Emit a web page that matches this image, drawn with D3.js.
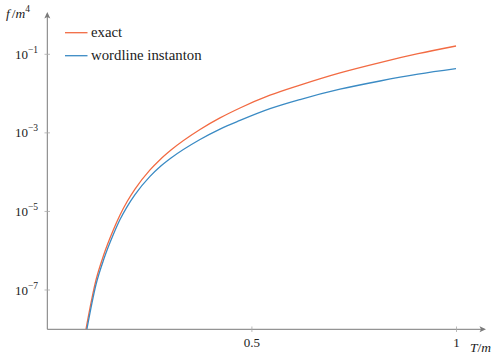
<!DOCTYPE html>
<html><head><meta charset="utf-8">
<script src="https://cdn.jsdelivr.net/npm/d3@7"></script>
<style>body{margin:0;background:#fff}svg{display:block}text{font-family:"Liberation Serif","DejaVu Serif",serif;fill:#222}</style>
</head><body><svg id="c" width="504" height="361"></svg>
<script>
const exactT = [0.0946,0.1190,0.1386,0.1613,0.1777,0.1948,0.2143,0.2510,0.2754,0.3023,0.3732,0.4220,0.4709,0.5442,0.6176,0.7153,0.8131,0.9059,0.9988];
const exactF = [1.016e-8,1.795e-7,8.24e-7,3.365e-6,8.11e-6,1.76e-5,3.70e-5,1.14e-4,2.08e-4,3.66e-4,1.22e-3,2.40e-3,4.30e-3,9.10e-3,1.65e-2,3.38e-2,6.18e-2,0.1035,0.1626];
const instT  = [0.0968,0.1190,0.1386,0.1613,0.1777,0.1948,0.2143,0.2510,0.2754,0.3023,0.3732,0.4220,0.4709,0.5442,0.6176,0.7153,0.8131,0.9059,0.9988];
const instF  = [1.016e-8,1.38e-7,6.32e-7,2.58e-6,6.22e-6,1.31e-5,2.68e-5,7.80e-5,1.37e-4,2.29e-4,6.78e-4,1.25e-3,2.07e-3,4.12e-3,7.06e-3,1.29e-2,2.09e-2,3.11e-2,4.30e-2];
const xTicks = [0.5,1];
const xTickLabels = ["0.5","1"];
const yTicks = [1e-7,1e-5,1e-3,1e-1];
const yTickExp = ["−7","−5","−3","−1"];
const seriesNames = ["exact","wordline instanton"];
const colors = ["#f26b43","#3b8bc4"];

const svg = d3.select("#c");
const x = d3.scaleLinear().domain([0,1]).range([47.3,456.5]);
const y = d3.scaleLog().domain([1e-8,1e-1]).range([329.3,54.3]);
const axisCol = "#7a7a7a";

svg.append("defs").append("clipPath").attr("id","clip")
  .append("rect").attr("x",47.3).attr("y",10).attr("width",440).attr("height",319.3);

// axes lines
svg.append("line").attr("x1",47.3).attr("x2",484).attr("y1",329.3).attr("y2",329.3).attr("stroke",axisCol).attr("stroke-width",1);
svg.append("line").attr("x1",47.3).attr("x2",47.3).attr("y1",329.3).attr("y2",14).attr("stroke",axisCol).attr("stroke-width",1);
svg.append("path").attr("d","M486,329.3 L479.5,326.3 L481,329.3 L479.5,332.3 Z").attr("fill",axisCol);
svg.append("path").attr("d","M47.3,12 L44.3,18.5 L47.3,17 L50.3,18.5 Z").attr("fill",axisCol);

// ticks
xTicks.forEach((t,i)=>{
  svg.append("line").attr("x1",x(t)).attr("x2",x(t)).attr("y1",326.5).attr("y2",332).attr("stroke","#aaa").attr("stroke-width",0.8);
  svg.append("text").attr("x",x(t)).attr("y",347).attr("text-anchor","middle").attr("font-size",13).text(xTickLabels[i]);
});
yTicks.forEach((t,i)=>{
  svg.append("line").attr("x1",44.5).attr("x2",50).attr("y1",y(t)).attr("y2",y(t)).attr("stroke","#aaa").attr("stroke-width",0.8);
  const tx = svg.append("text").attr("x",38).attr("y",y(t)+4.5).attr("text-anchor","end").attr("font-size",13);
  tx.append("tspan").text("10");
  tx.append("tspan").attr("dy",-6).attr("font-size",9.5).text(yTickExp[i]);
});

// axis labels
const yl = svg.append("text").attr("x",6).attr("y",18).attr("font-size",13.5).attr("font-style","italic");
yl.append("tspan").text("f");
yl.append("tspan").attr("dx",2).attr("font-style","normal").text("/");
yl.append("tspan").text("m");
yl.append("tspan").attr("dy",-6).attr("font-size",9.5).attr("font-style","normal").text("4");
const xl = svg.append("text").attr("x",470).attr("y",351.5).attr("font-size",13.5).attr("font-style","italic");
xl.append("tspan").text("T");
xl.append("tspan").attr("font-style","normal").text("/");
xl.append("tspan").text("m");

// curves
const line = d3.line().x(d=>x(d[0])).y(d=>y(d[1])).curve(d3.curveMonotoneX);
const data = [d3.zip(exactT,exactF), d3.zip(instT,instF)];
data.forEach((d,i)=>{
  svg.append("path").attr("clip-path","url(#clip)").attr("d",line(d)).attr("fill","none").attr("stroke",colors[i]).attr("stroke-width",1.3);
});

// legend
seriesNames.forEach((n,i)=>{
  const yy = 32.7 + i*23;
  svg.append("line").attr("x1",65).attr("x2",87.5).attr("y1",yy).attr("y2",yy).attr("stroke",colors[i]).attr("stroke-width",1.3);
  svg.append("text").attr("x",91).attr("y",yy+4.2).attr("font-size",14.8).text(n);
});
</script></body></html>
